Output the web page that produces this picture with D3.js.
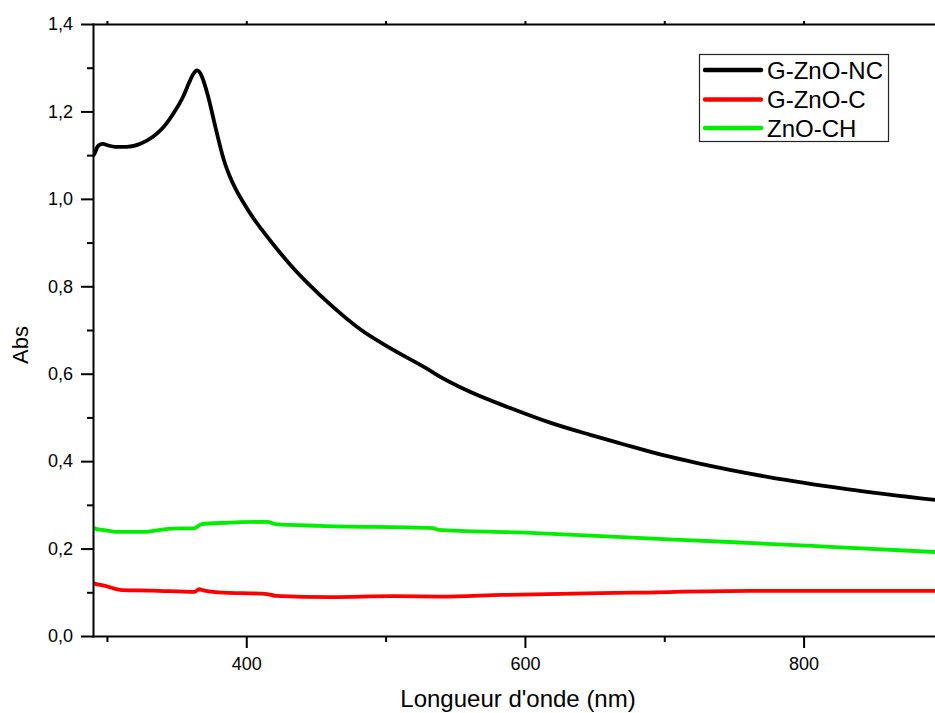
<!DOCTYPE html>
<html>
<head>
<meta charset="utf-8">
<script src="https://cdn.jsdelivr.net/npm/d3@7/dist/d3.min.js"></script>
<style>
  html, body { margin: 0; padding: 0; background: #fff; }
  svg { display: block; }
  text { font-family: Arial, "Liberation Sans", sans-serif; fill: #000; }
</style>
</head>
<body>
<svg id="chart" width="935" height="713"></svg>
<script>
// UV-Vis absorbance spectra: [wavelength (nm), absorbance]
const gZnoNc = [
  [290.5, 1.100], [291.5, 1.106], [293, 1.118], [295, 1.124], [297, 1.126],
  [301, 1.122], [306, 1.119], [314, 1.119], [324, 1.126], [333, 1.142],
  [340, 1.162], [347, 1.192], [355, 1.236], [359, 1.266], [361.5, 1.283],
  [363.5, 1.292], [365, 1.294], [366.5, 1.290], [368.5, 1.277], [370.5, 1.258],
  [372.5, 1.236], [377.5, 1.169], [380, 1.136], [382.5, 1.105], [385, 1.078],
  [388, 1.053], [392, 1.025], [399, 0.986], [404, 0.961], [411, 0.930],
  [420.6, 0.891], [431.4, 0.850], [445.7, 0.802], [460, 0.759], [482, 0.701],
  [503, 0.659], [532, 0.607], [535, 0.601], [561, 0.558], [589, 0.522],
  [618, 0.488], [647, 0.460], [668, 0.441], [700, 0.413], [723, 0.396],
  [774, 0.364], [831, 0.336], [895, 0.311]
];
const gZnoC = [
  [290, 0.121], [293, 0.118], [297, 0.116], [311, 0.105], [332, 0.104],
  [363, 0.101], [366, 0.107], [370, 0.104], [380, 0.100], [415, 0.096],
  [421, 0.092], [461, 0.089], [505, 0.091], [539, 0.090], [584, 0.094],
  [677, 0.099], [762, 0.103], [895, 0.103]
];
const znoCh = [
  [290, 0.249], [292, 0.245], [296.5, 0.243], [308, 0.238], [325, 0.238],
  [344, 0.245], [363, 0.247], [368, 0.256], [385, 0.259], [415, 0.261],
  [421, 0.256], [453, 0.252], [534, 0.247], [538, 0.243], [596, 0.237],
  [677, 0.225], [747, 0.215], [819, 0.204], [895, 0.192]
];
const seriesNames = ["G-ZnO-NC", "G-ZnO-C", "ZnO-CH"];
const seriesColors = ["#000000", "#ff0000", "#00ee00"];
const xMajorTicks = [400, 600, 800];
const xMinorTicks = [300, 500, 700, 900];
const yMajorTicks = [0, 0.2, 0.4, 0.6, 0.8, 1.0, 1.2, 1.4];
const yMinorTicks = [0.1, 0.3, 0.5, 0.7, 0.9, 1.1, 1.3];
const xTitle = "Longueur d'onde (nm)";
const yTitle = "Abs";

const svg = d3.select("#chart");
const plotLeft = 93, plotTop = 24, plotBottom = 636;

const x = d3.scaleLinear().domain([290, 900]).range([plotLeft, plotLeft + 610 * 1.3933]);
const y = d3.scaleLinear().domain([0, 1.4]).range([plotBottom, plotTop]);

const fmt = d => d3.format(".1f")(d).replace(".", ",");

// curves
const line = d3.line().x(d => x(d[0])).y(d => y(d[1])).curve(d3.curveMonotoneX);
const allSeries = [gZnoNc, gZnoC, znoCh];
svg.append("clipPath").attr("id", "plot").append("rect")
  .attr("x", plotLeft).attr("y", plotTop).attr("width", 935 - plotLeft).attr("height", plotBottom - plotTop);
const g = svg.append("g").attr("clip-path", "url(#plot)");
allSeries.forEach((s, i) => {
  g.append("path").datum(s).attr("d", line)
    .attr("fill", "none").attr("stroke", seriesColors[i])
    .attr("stroke-width", 3.8).attr("stroke-linejoin", "round").attr("stroke-linecap", "round");
});

function styleAxis(sel) {
  sel.selectAll("path, line").attr("stroke", "#000").attr("stroke-width", 2);
  sel.select(".domain").attr("stroke-linecap", "square");
}

// bottom axis
const xAx = svg.append("g").attr("transform", `translate(0,${plotBottom})`)
  .call(d3.axisBottom(x).tickValues(xMajorTicks).tickSize(12).tickSizeOuter(0).tickPadding(9));
xAx.selectAll("text").attr("font-size", 18).attr("font-family", "Arial, 'Liberation Sans', sans-serif");
styleAxis(xAx);
const xMin = svg.append("g").attr("transform", `translate(0,${plotBottom})`)
  .call(d3.axisBottom(x).tickValues(xMinorTicks).tickSize(6).tickFormat(""));
xMin.select(".domain").remove();
styleAxis(xMin);

// top border
const xTop = svg.append("g").attr("transform", `translate(0,${plotTop})`)
  .call(d3.axisTop(x).tickValues(xMajorTicks.concat(xMinorTicks)).tickSize(3).tickSizeOuter(0).tickFormat(""));
styleAxis(xTop);

// left axis
const yAx = svg.append("g").attr("transform", `translate(${plotLeft},0)`)
  .call(d3.axisLeft(y).tickValues(yMajorTicks).tickFormat(fmt).tickSize(12).tickSizeOuter(0).tickPadding(8));
yAx.selectAll("text").attr("font-size", 18).attr("font-family", "Arial, 'Liberation Sans', sans-serif");
styleAxis(yAx);
const yMin = svg.append("g").attr("transform", `translate(${plotLeft},0)`)
  .call(d3.axisLeft(y).tickValues(yMinorTicks).tickSize(6).tickFormat(""));
yMin.select(".domain").remove();
styleAxis(yMin);

// titles
svg.append("text").attr("x", 518).attr("y", 707).attr("text-anchor", "middle")
  .attr("font-size", 24).text(xTitle);
svg.append("text").attr("transform", "translate(28,345) rotate(-90)")
  .attr("text-anchor", "middle").attr("font-size", 22).text(yTitle);

// legend
const lg = svg.append("g");
lg.append("rect").attr("x", 699.5).attr("y", 54.5).attr("width", 189).attr("height", 87)
  .attr("fill", "#fff").attr("stroke", "#222").attr("stroke-width", 1.2);
const rowY = [70, 99.5, 128];
seriesNames.forEach((n, i) => {
  lg.append("line").attr("x1", 705).attr("x2", 761).attr("y1", rowY[i]).attr("y2", rowY[i])
    .attr("stroke", seriesColors[i]).attr("stroke-width", 4.5).attr("stroke-linecap", "round");
  lg.append("text").attr("x", 767).attr("y", rowY[i] + 8.5).attr("font-size", 24).text(n);
});
</script>
</body>
</html>
